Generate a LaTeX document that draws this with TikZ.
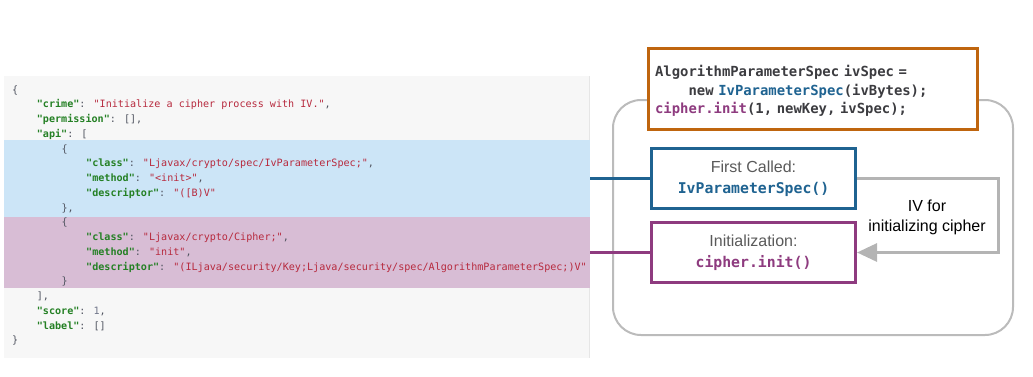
\documentclass[tikz,border=0pt]{standalone}
\usepackage{fontspec}
\setmainfont{Liberation Sans}
\newfontfamily\jsonfont{DejaVu Sans Mono}
\newfontfamily\codefont{DejaVu Sans Mono}
\usetikzlibrary{arrows.meta}
\usepackage{xcolor}

\definecolor{jsonbg}{RGB}{247,247,247}
\definecolor{jsonedge}{RGB}{230,230,230}
\definecolor{bandblue}{RGB}{204,229,247}
\definecolor{bandpink}{RGB}{216,189,213}
\definecolor{jkey}{RGB}{36,128,36}
\definecolor{jstr}{RGB}{183,42,62}
\definecolor{jpunct}{RGB}{80,84,96}
\definecolor{jnum}{RGB}{110,116,136}
\definecolor{orangebox}{RGB}{191,101,14}
\definecolor{ivblue}{RGB}{31,99,145}
\definecolor{initpurple}{RGB}{142,59,127}
\definecolor{codegray}{RGB}{60,60,64}
\definecolor{labelgray}{RGB}{90,90,90}
\definecolor{framegray}{RGB}{187,187,187}
\definecolor{flowgray}{RGB}{180,180,180}

\newcommand{\jk}[1]{{\bfseries\color{jkey}"#1"}}
\newcommand{\js}[1]{{\color{jstr}"#1"}}

\begin{document}
\begin{tikzpicture}[x=1pt,y=-1pt,
    jline/.style={anchor=base west, inner sep=0pt, text=jpunct,
                  font=\jsonfont\fontsize{10.1}{12}\selectfont},
    callbox/.style={draw, line width=3pt, fill=white, minimum width=204pt,
                    minimum height=60pt, align=center, inner sep=0pt,
                    font=\fontsize{16}{21}\selectfont},
    link/.style={line width=3pt},
    ivflow/.style={draw=flowgray, line width=3pt,
                   -{Triangle[length=20pt,width=18pt]}}]
\useasboundingbox (0,0) rectangle (1033,376);

% json panel
\fill[jsonbg] (4,76) rectangle (590,358);
\draw[jsonedge, line width=0.8pt] (589.5,76) -- (589.5,358);
\fill[bandblue] (4,139.5) rectangle (590,217);
\fill[bandpink] (4,217) rectangle (590,287.5);

\node[jline] (j0) at (12,93) {\{};
\node[jline] (j1) at (36.7,107.75) {\jk{crime}: \js{Initialize a cipher process with IV.},};
\node[jline] (j2) at (36.7,122.5) {\jk{permission}: [],};
\node[jline] (j3) at (36.7,137.25) {\jk{api}: [};
\node[jline] (j4) at (61.3,152) {\{};
\node[jline] (j5) at (86,166.75) {\jk{class}: \js{Ljavax/crypto/spec/IvParameterSpec;},};
\node[jline] (j6) at (86,181.5) {\jk{method}: \js{<init>},};
\node[jline] (j7) at (86,196.25) {\jk{descriptor}: \js{([B)V}};
\node[jline] (j8) at (61.3,211) {\},};
\node[jline] (j9) at (61.3,225.75) {\{};
\node[jline] (j10) at (86,240.5) {\jk{class}: \js{Ljavax/crypto/Cipher;},};
\node[jline] (j11) at (86,255.25) {\jk{method}: \js{init},};
\node[jline] (j12) at (86,270) {\jk{descriptor}: \js{(ILjava/security/Key;Ljava/security/spec/AlgorithmParameterSpec;)V}};
\node[jline] (j13) at (61.3,284.75) {\}};
\node[jline] (j14) at (36.7,299.5) {],};
\node[jline] (j15) at (36.7,314.25) {\jk{score}: {\color{jnum}1},};
\node[jline] (j16) at (36.7,329) {\jk{label}: []};
\node[jline] (j17) at (12,343.75) {\}};

% right part
\node[draw=framegray, line width=2pt, rounded corners=28pt,
      minimum width=400pt, minimum height=235pt] (frame) at (813,217.5) {};

\node[draw=orangebox, line width=3pt, fill=white, minimum width=329pt,
      minimum height=81pt, inner xsep=6.8pt, text width=315.7pt, align=left,
      text=codegray, font=\codefont\bfseries\fontsize{13.9}{18.5}\selectfont]
      (snippet) at (812.9,88.7)
      {\rule{0pt}{16pt}AlgorithmParameterSpec ivSpec =\\
       \hphantom{abcd}new {\color{ivblue}IvParameterSpec}(ivBytes);\\
       {\color{initpurple}cipher.init}(1, newKey, ivSpec);};

\node[callbox, draw=ivblue] (first) at (753.5,178.5)
      {{\color{labelgray}First Called:}\\
       {\codefont\bfseries\fontsize{14.8}{21}\selectfont\color{ivblue}IvParameterSpec()}};
\node[callbox, draw=initpurple] (init) at (753.5,252.5)
      {{\color{labelgray}Initialization:}\\
       {\codefont\bfseries\fontsize{14.8}{21}\selectfont\color{initpurple}cipher.init()}};

\coordinate (bandA) at (590,178.5);
\coordinate (bandB) at (590,252.5);
\draw[link, ivblue] (bandA) -- (first.west);
\draw[link, initpurple] (bandB) -- (init.west);

\draw[ivflow] (first.east) -- ++(141.5,0) |- (init.east);
\node[align=center, font=\fontsize{16}{20}\selectfont] (ivnote) at (927,217)
      {IV for\\initializing cipher};
\end{tikzpicture}
\end{document}
